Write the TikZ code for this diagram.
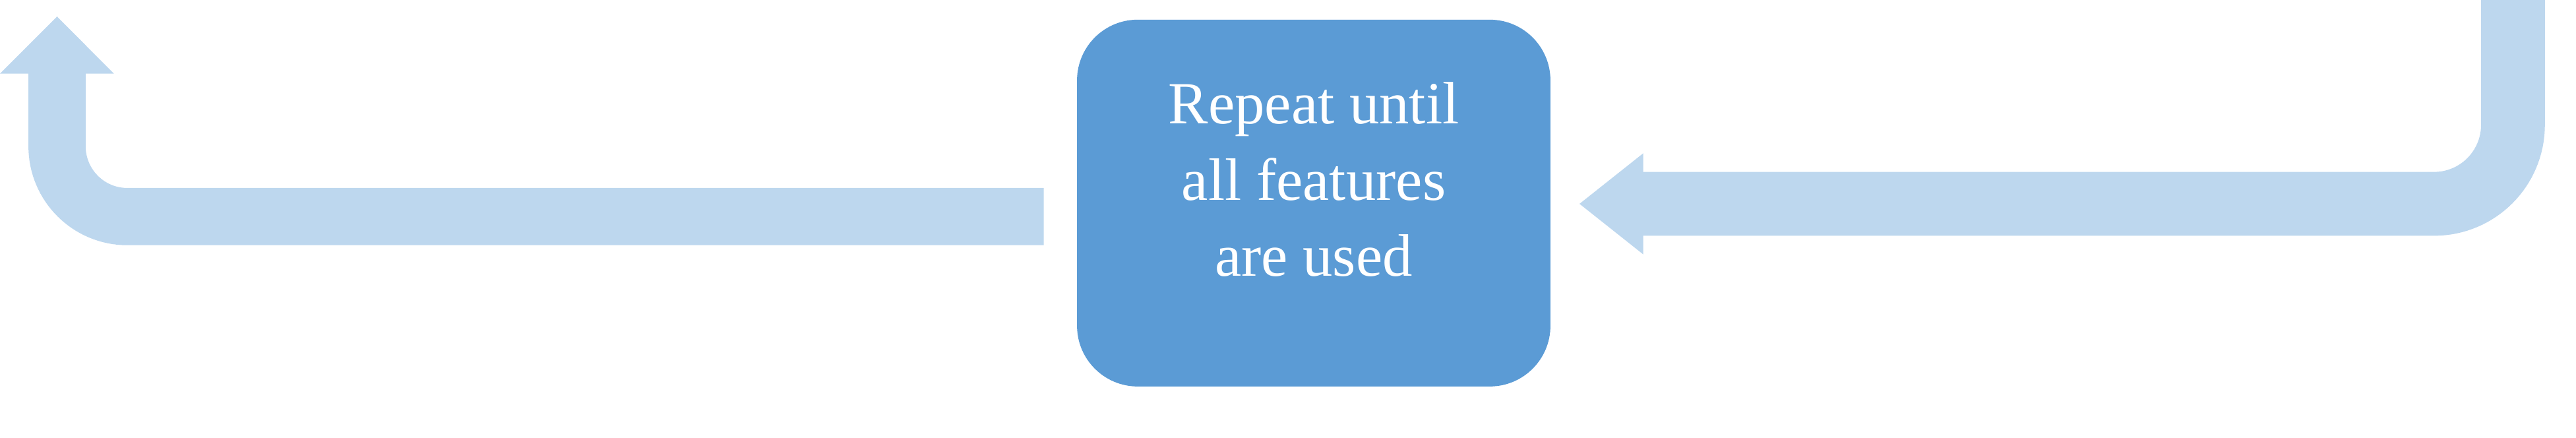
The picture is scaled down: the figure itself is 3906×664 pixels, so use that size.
\documentclass[tikz,border=0pt]{standalone}
\usepackage{fontspec}
\setmainfont{Liberation Serif}
\definecolor{bandblue}{HTML}{BDD7EE}
\definecolor{boxblue}{HTML}{5B9BD5}
\tikzset{
  bandL/.style={draw=bandblue, line width=0.867cm, line cap=butt, rounded corners=1.065cm},
  bandR/.style={draw=bandblue, line width=0.967cm, line cap=butt, rounded corners=1.195cm},
  headfill/.style={fill=bandblue},
  stepbox/.style={rectangle, fill=boxblue, draw=none, rounded corners=0.92cm,
    minimum width=7.174cm, minimum height=5.557cm, inner sep=0pt},
  boxtext/.style={text=white, anchor=base, inner sep=0pt, font=\fontsize{25.8}{32.6}\selectfont}
}
\begin{document}
\begin{tikzpicture}[x=0.01cm, y=-0.01cm]
\useasboundingbox (0,0) rectangle (3906,664);
% central box
\node[stepbox] (box) at (1992,307.85) {};
\node[boxtext] (t1) at (1992,188) {Repeat until};
\node[boxtext] (t2) at (1992,303) {all features};
\node[boxtext] (t3) at (1992,418) {are used};
% left arrow (going left then up)
\coordinate (lstart) at (1582.7,328.35);
\coordinate (lbase) at (86.5,111.7);
\coordinate (ltip) at (86.5,25);
\coordinate (lwl) at (0,111.7);
\coordinate (lwr) at (172.7,111.7);
\draw[bandL] (lstart) -| ([yshift=0.02cm]lbase);
\fill[headfill] (lwl) -- (ltip) -- (lwr) -- cycle;
% right arrow (coming down then left)
\coordinate (rstart) at (3810.35,0);
\coordinate (rbase) at (2491.7,309);
\coordinate (rtip) at (2395,309);
\coordinate (rwt) at (2491.7,232.3);
\coordinate (rwb) at (2491.7,385.7);
\draw[bandR] (rstart) |- ([xshift=-0.02cm]rbase);
\fill[headfill] (rwt) -- (rtip) -- (rwb) -- cycle;
\end{tikzpicture}
\end{document}
